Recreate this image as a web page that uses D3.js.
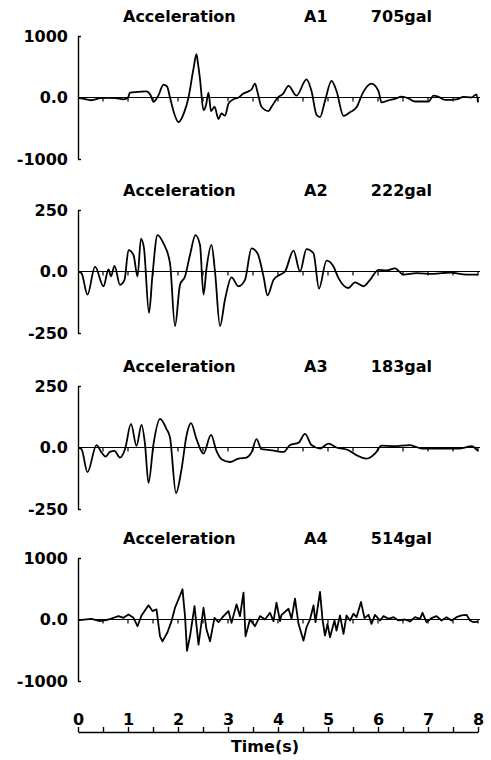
<!DOCTYPE html>
<head>
<meta charset="utf-8">
<script src="https://d3js.org/d3.v7.min.js"></script>
<style>
body {
margin: 0;
background: white;
}
text {
font-family: "DejaVu Sans", sans-serif;
font-weight: bold;
fill: black;
}
.y-axis path, .y-axis line, .x-axis path, .x-axis line {
stroke: black;
stroke-width: 1.4;
}
.trace {
fill: none;
stroke: black;
stroke-width: 1.8;
stroke-linejoin: round;
}
.zero {
stroke: black;
stroke-width: 1.2;
}
</style>
</head>

<body>

<svg width=491 height=760></svg>

<script>
// panel labels
var ids = ["A1", "A2", "A3", "A4"];
var peaks = ["705gal", "222gal", "183gal", "514gal"];
var yMax = [1000, 250, 250, 1000];
var xTicks = [0, 0.5, 1, 1.5, 2, 2.5, 3, 3.5, 4, 4.5, 5, 5.5, 6, 6.5, 7, 7.5, 8];

// [time (s), acceleration (gal)]
var a1 = [[0, 0], [0.1, -20], [0.27, -45], [0.45, -10], [0.6, -5], [0.75, -10], [0.91, -30], [1.0, 0], [1.04, 80],
  [1.2, 90], [1.37, 100], [1.45, 40], [1.51, -70], [1.6, 20], [1.71, 210], [1.78, 180], [1.84, 0], [1.92, -250],
  [2.01, -400], [2.12, -250], [2.21, 0], [2.31, 470], [2.37, 705], [2.4, 550], [2.44, 300], [2.51, -205], [2.56, -125],
  [2.61, 80], [2.66, -220], [2.73, -150], [2.81, -350], [2.87, -260], [2.94, -295], [3.01, -100], [3.11, -27], [3.21, 0],
  [3.3, 60], [3.41, 100], [3.47, 130], [3.54, 225], [3.59, 90], [3.67, -150], [3.81, -220], [3.87, -150], [4.01, 10],
  [4.1, 60], [4.21, 190], [4.37, 30], [4.57, 295], [4.67, 105], [4.77, -280], [4.84, -320], [4.94, -55], [5.07, 270],
  [5.17, 105], [5.31, -300], [5.44, -240], [5.57, -160], [5.7, 80], [5.87, 225], [6.01, 105], [6.07, -80], [6.21, -45],
  [6.35, -20], [6.47, 15], [6.6, -10], [6.74, -65], [7.01, -65], [7.11, 30], [7.21, 10], [7.34, -40], [7.57, -30],
  [7.71, 10], [7.87, 0], [7.97, 50], [8.0, -80]];

var a2 = [[0, 0], [0.07, -7], [0.19, -94], [0.34, 20], [0.51, -60], [0.61, 9], [0.66, -20], [0.73, 23], [0.84, -54],
  [0.93, -34], [1.01, 87], [1.11, 67], [1.19, -20], [1.26, 134], [1.32, 94], [1.42, -168], [1.49, -13], [1.59, 148],
  [1.71, 114], [1.84, 34], [1.94, -222], [2.04, -54], [2.14, -20], [2.24, 67], [2.35, 148], [2.44, 108], [2.51, -94],
  [2.57, 13], [2.67, 108], [2.74, 0], [2.84, -222], [2.94, -114], [3.07, -24], [3.21, -60], [3.34, -34], [3.47, 94],
  [3.59, 74], [3.71, -20], [3.79, -97], [3.91, -34], [4.04, -13], [4.14, 0], [4.31, 85], [4.44, 0], [4.57, 91],
  [4.71, 74], [4.82, -70], [4.97, 44], [5.11, 20], [5.21, -27], [5.41, -67], [5.54, -44], [5.71, -60], [5.84, -34],
  [6.01, 7], [6.17, 4], [6.34, 13], [6.51, -13], [6.77, -7], [7.11, -10], [7.44, -4], [7.77, -13], [8.0, -13]];

var a3 = [[0, 0], [0.07, -7], [0.19, -100], [0.37, 10], [0.47, -20], [0.55, -37], [0.64, -18], [0.73, -14], [0.84, -41],
  [0.94, -7], [1.06, 96], [1.17, 7], [1.27, 92], [1.34, 14], [1.41, -144], [1.51, 14], [1.64, 116], [1.77, 75],
  [1.84, 41], [1.96, -185], [2.07, -89], [2.17, 48], [2.26, 99], [2.37, 34], [2.51, -25], [2.66, 51], [2.77, -14],
  [2.87, -48], [3.04, -59], [3.21, -45], [3.37, -41], [3.47, -20], [3.57, 34], [3.67, -7], [3.81, -10], [3.94, -14],
  [4.11, -18], [4.24, 10], [4.41, 19], [4.54, 55], [4.67, 10], [4.84, -4], [5.01, 16], [5.17, 0], [5.41, -11],
  [5.57, -31], [5.77, -45], [5.94, -25], [6.07, 8], [6.31, 5], [6.64, 10], [6.87, -4], [7.24, -4], [7.64, -4],
  [7.87, 5], [8.0, -14]];

var a4 = [[0, 0], [0.03, -10], [0.27, 11], [0.44, -27], [0.61, 0], [0.81, 55], [0.91, 27], [1.01, 82], [1.11, 27],
  [1.19, -109], [1.27, 66], [1.41, 230], [1.49, 137], [1.57, 164], [1.64, -273], [1.69, -355], [1.79, -207], [1.87, -27],
  [1.94, 191], [2.09, 491], [2.14, 55], [2.18, -508], [2.24, -273], [2.33, 218], [2.41, -410], [2.51, 191], [2.57, -164],
  [2.64, -355], [2.73, 27], [2.81, -44], [2.91, 55], [3.01, 137], [3.07, -55], [3.17, 246], [3.24, 55], [3.31, 437],
  [3.35, -273], [3.44, 0], [3.54, -109], [3.64, 55], [3.74, 0], [3.84, 109], [3.91, -27], [3.97, 273], [4.04, -27],
  [4.07, 76], [4.21, 175], [4.27, 11], [4.34, 338], [4.41, -71], [4.51, -344], [4.57, -126], [4.64, 0], [4.71, 229],
  [4.75, -44], [4.84, 448], [4.89, 0], [4.94, -262], [4.99, -71], [5.04, -290], [5.13, -16], [5.17, -180], [5.24, 66],
  [5.31, -235], [5.37, 66], [5.44, -16], [5.51, 93], [5.57, 38], [5.66, 284], [5.73, 22], [5.81, 76], [5.87, -71],
  [5.94, 76], [6.04, -16], [6.11, 55], [6.21, 11], [6.31, 38], [6.41, -16], [6.54, 0], [6.64, -33], [6.74, 38],
  [6.84, 11], [6.89, 109], [6.97, -44], [7.07, 22], [7.17, 55], [7.27, -16], [7.37, 38], [7.47, -16], [7.57, 38],
  [7.67, 66], [7.77, 76], [7.84, -16], [7.91, -44], [8.0, -33]];

var records = [a1, a2, a3, a4];

var svg = d3.select("svg");
var panelTop = [36, 210, 386, 558];
var panelH = 123;

var x = d3.scaleLinear().domain([0, 8]).range([78, 478]);

records.forEach(function(rec, i) {
	var top = panelTop[i];
	var y = d3.scaleLinear().domain([-yMax[i], yMax[i]]).range([top + panelH, top]);

	// title row
	svg.append("text").attr("x", 123).attr("y", top - 14).style("font-size", "16px").text("Acceleration");
	svg.append("text").attr("x", 304).attr("y", top - 14).style("font-size", "16px").text(ids[i]);
	svg.append("text").attr("x", 432).attr("y", top - 14).attr("text-anchor", "end").style("font-size", "16px").text(peaks[i]);

	var ya = svg.append("g")
	.attr("class", "y-axis")
	.attr("transform", "translate(" + x(0) + ",0)")
	.call(d3.axisLeft(y)
		.tickValues([-yMax[i], 0, yMax[i]])
		.tickFormat(d => d == 0 ? "0.0" : String(d))
		.tickSize(-3)
		.tickSizeOuter(0)
		.tickPadding(10));
	ya.selectAll("text").style("font-size", "16px").style("font-family", '"DejaVu Sans", sans-serif');

	// zero line with half-second marks
	svg.append("line").attr("class", "zero")
	.attr("x1", x(0)).attr("x2", x(8) + 2)
	.attr("y1", y(0)).attr("y2", y(0));
	svg.append("g").selectAll("line").data(xTicks.slice(1)).enter().append("line")
	.attr("class", "zero")
	.attr("x1", d => x(d)).attr("x2", d => x(d))
	.attr("y1", y(0)).attr("y2", y(0) + 4);

	// the slower records are smooth waves, A4 is spiky
	var line = d3.line()
	.curve(i == 3 ? d3.curveLinear : d3.curveMonotoneX)
	.x(d => x(d[0])).y(d => y(d[1]));
	svg.append("path").attr("class", "trace").attr("d", line(rec));
});

// time axis, labels above the line
var xa = svg.append("g")
.attr("class", "x-axis")
.attr("transform", "translate(0,732)")
.call(d3.axisTop(x)
	.tickValues(xTicks)
	.tickFormat(d => d % 1 == 0 ? d : "")
	.tickSize(5)
	.tickSizeOuter(0)
	.tickPadding(2));
xa.selectAll("text").style("font-size", "16px").style("font-family", '"DejaVu Sans", sans-serif');

svg.append("text")
.attr("x", 265).attr("y", 752)
.attr("text-anchor", "middle")
.style("font-size", "16px")
.text("Time(s)");
</script>
</body>
